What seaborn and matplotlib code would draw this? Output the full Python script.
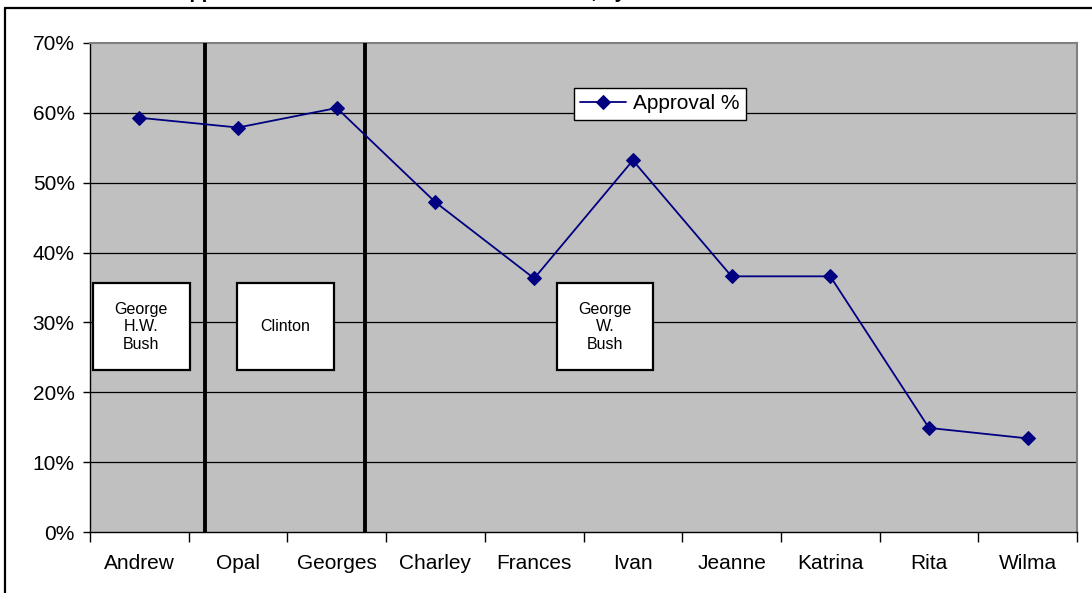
import matplotlib
matplotlib.use("Agg")
import matplotlib.pyplot as plt
from matplotlib.patches import Rectangle
from matplotlib.lines import Line2D
from matplotlib.ticker import PercentFormatter, FixedLocator
import seaborn as sns
import numpy as np

# Storms in chronological order and public approval of the federal response (%)
storms = ["Andrew", "Opal", "Georges", "Charley", "Frances",
          "Ivan", "Jeanne", "Katrina", "Rita", "Wilma"]
approval = [59.3, 57.9, 60.7, 47.2, 36.3, 53.2, 36.6, 36.6, 14.9, 13.4]

# Administration labels shown in boxes
presidents = ["George\nH.W.\nBush", "Clinton", "George\nW.\nBush"]

title_text = "Approval of Federal Hurricane Relief Efforts, by Storm"
series_name = "Approval %"

sns.set_style("white")
plt.rcParams["font.family"] = ["Liberation Sans", "DejaVu Sans"]
plt.rcParams["text.color"] = "black"
plt.rcParams["xtick.color"] = "black"
plt.rcParams["ytick.color"] = "black"
plt.rcParams["xtick.labelcolor"] = "black"
plt.rcParams["ytick.labelcolor"] = "black"

W, H = 1092, 593
fig = plt.figure(figsize=(W / 100, H / 100), dpi=100)
ax = fig.add_axes([90 / W, 1 - 532 / H, (1077 - 90) / W, (532 - 43) / H])
ax.set_facecolor("#C0C0C0")

x = np.arange(len(storms))

# horizontal gridlines
for v in range(10, 70, 10):
    ax.axhline(v, color="#000000", lw=0.9, zorder=1)

sns.lineplot(x=x, y=approval, ax=ax, sort=False, color="#000080",
             lw=1.3, marker="D", markersize=7, markeredgecolor="#000080",
             label=series_name, zorder=4)

# administration boundaries
for bx in (0.67, 2.286):
    ax.axvline(bx, color="black", lw=2.8, zorder=3)

# administration boxes: (x0, x1) in category units, y range in percent
box_spans = [(-0.473, 0.512), (0.986, 1.972), (4.234, 5.207)]
for (x0, x1), name in zip(box_spans, presidents):
    ax.add_patch(Rectangle((x0, 23.2), x1 - x0, 12.4, facecolor="white",
                           edgecolor="black", lw=1.6, zorder=5))
    ax.text((x0 + x1) / 2, 29.4, name, ha="center", va="center",
            fontsize=11.5, linespacing=1.2, color="black", zorder=6)

ax.set_xlim(-0.5, len(storms) - 0.5)
ax.set_ylim(0, 70)
ax.yaxis.set_major_locator(FixedLocator(range(0, 71, 10)))
ax.yaxis.set_major_formatter(PercentFormatter(xmax=100, decimals=0))

ax.set_xticks(x)
ax.set_xticklabels(storms)
ax.set_xticks(np.arange(-0.5, len(storms), 1.0), minor=True)
ax.tick_params(axis="x", which="major", length=0, pad=16, labelsize=15)
ax.tick_params(axis="x", which="minor", length=7, width=1, color="black",
               direction="out", bottom=True)
ax.tick_params(axis="y", length=5, width=1, color="black", direction="out",
               left=True, labelsize=15, pad=6)
ax.set_xlabel("")
ax.set_ylabel("")

for side in ("left", "bottom"):
    ax.spines[side].set_color("black")
    ax.spines[side].set_linewidth(1.0)
for side in ("top", "right"):
    ax.spines[side].set_color("#808080")
    ax.spines[side].set_linewidth(1.5)

leg = ax.legend(loc="upper left", bbox_to_anchor=((574 - 90) / 987, (532 - 88) / 489),
                borderaxespad=0, fontsize=15, frameon=True, fancybox=False,
                borderpad=0.3, handlelength=2.2, handletextpad=0.35)
leg.get_frame().set_edgecolor("black")
leg.get_frame().set_linewidth(1.0)
leg.get_frame().set_facecolor("white")
leg.get_frame().set_alpha(1)
leg.set_zorder(7)
for t in leg.get_texts():
    t.set_color("black")

# chart frame
fig.add_artist(Line2D([5 / W, 1.01], [1 - 8 / H, 1 - 8 / H], color="black",
                      lw=1.6, transform=fig.transFigure))
fig.add_artist(Line2D([5 / W, 5 / W], [-0.01, 1 - 8 / H], color="black",
                      lw=1.6, transform=fig.transFigure))

fig.text(175 / W, 1 + 1.5 / H, title_text, ha="left", va="baseline",
         fontsize=14.4, fontweight="bold", color="black")

fig.savefig("out.png", dpi=100, facecolor="white")
